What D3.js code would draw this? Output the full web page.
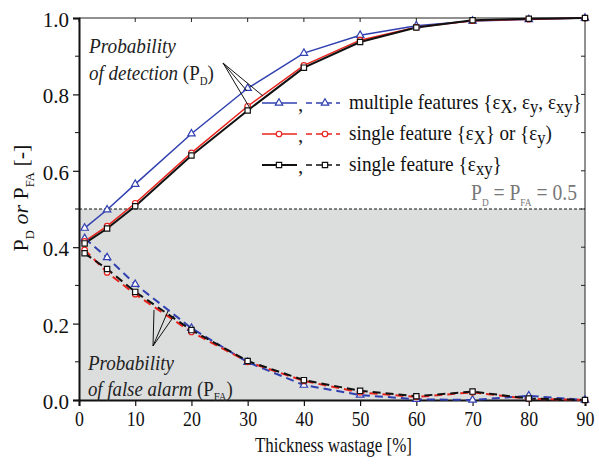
<!DOCTYPE html>
<html>
<head>
<meta charset="utf-8">
<script src="https://cdn.jsdelivr.net/npm/d3@7"></script>
<style>
  body { margin: 0; background: #fff; }
  svg { display: block; }
</style>
</head>
<body>
<svg width="599" height="465"></svg>
<script>
  // thickness wastage [%]
  var wastage = [1, 5, 10, 20, 30, 40, 50, 60, 70, 80, 90];

  // probability of detection
  var pdMulti  = [0.450, 0.498, 0.565, 0.697, 0.816, 0.908, 0.955, 0.980, 0.992, 0.996, 1.000];
  var pdSingle = [0.415, 0.455, 0.515, 0.647, 0.769, 0.876, 0.942, 0.976, 0.993, 0.997, 1.000];
  var pdXY     = [0.410, 0.449, 0.507, 0.640, 0.758, 0.870, 0.937, 0.975, 0.994, 0.998, 1.000];

  // probability of false alarm
  var pfaMulti  = [0.423, 0.373, 0.303, 0.188, 0.099, 0.039, 0.013, 0.002, 0.000, 0.011, 0.000];
  var pfaSingle = [0.393, 0.334, 0.277, 0.178, 0.100, 0.050, 0.020, 0.008, 0.020, 0.003, 0.000];
  var pfaXY     = [0.384, 0.343, 0.283, 0.183, 0.102, 0.052, 0.024, 0.010, 0.022, 0.004, 0.000];

  var xTicks = [0, 10, 20, 30, 40, 50, 60, 70, 80, 90];
  var yTicks = [0, 0.2, 0.4, 0.6, 0.8, 1.0];
  var yMinor = [0.1, 0.3, 0.5, 0.7, 0.9];

  var series = [
    { name: "multi",  pd: pdMulti,  pfa: pfaMulti,  color: "#3040b0", shape: d3.symbolTriangle, size: 24 },
    { name: "single", pd: pdSingle, pfa: pfaSingle, color: "#e8231c", shape: d3.symbolCircle,   size: 24 },
    { name: "xy",     pd: pdXY,     pfa: pfaXY,     color: "#111111", shape: d3.symbolSquare,   size: 28 }
  ];

  var plotL = 79, plotR = 585, plotT = 18, plotB = 400;
  var serif = "'Liberation Serif', 'Times New Roman', serif";

  var x = d3.scaleLinear().domain([0, 90]).range([plotL, plotR]);
  var y = d3.scaleLinear().domain([0, 1]).range([plotB, plotT]);

  var svg = d3.select("svg");

  // squeeze a text horizontally so it spans the given width
  function fit(sel, width, ax) {
    var w = sel.node().getComputedTextLength();
    var k = width / w;
    sel.attr("transform", "translate(" + ax + ",0) scale(" + k + ",1) translate(" + (-ax) + ",0)");
  }

  // grey band below 0.5
  svg.append("rect")
      .attr("x", x(0)).attr("y", y(0.5))
      .attr("width", x(90) - x(0)).attr("height", y(0) - y(0.5))
      .attr("fill", "#dcdddd");

  svg.append("line")
      .attr("x1", x(0)).attr("x2", x(90))
      .attr("y1", y(0.5)).attr("y2", y(0.5))
      .attr("stroke", "#111").attr("stroke-width", 1)
      .attr("stroke-dasharray", "3,2");

  // frame: top and right
  svg.append("path")
      .attr("d", ["M", x(0), y(1), "L", x(90), y(1), "L", x(90), y(0)].join(" "))
      .attr("fill", "none").attr("stroke", "#222").attr("stroke-width", 1);

  svg.selectAll("line.rtick").data(yTicks.concat(yMinor)).enter()
      .append("line")
      .attr("x1", x(90)).attr("x2", x(90) - 4)
      .attr("y1", function(d) { return y(d); }).attr("y2", function(d) { return y(d); })
      .attr("stroke", "#222").attr("stroke-width", 1);

  svg.selectAll("line.ttick").data(xTicks).enter()
      .append("line")
      .attr("x1", function(d) { return x(d); }).attr("x2", function(d) { return x(d); })
      .attr("y1", y(1)).attr("y2", y(1) + 4)
      .attr("stroke", "#222").attr("stroke-width", 1);

  // axes
  var xAxis = svg.append("g")
      .attr("transform", "translate(0," + y(0) + ")")
      .call(d3.axisBottom(x).tickValues(xTicks).tickSize(6).tickPadding(5).tickFormat(d3.format("d")));

  var yAxis = svg.append("g")
      .attr("transform", "translate(" + x(0) + ",0)")
      .call(d3.axisLeft(y).tickValues(yTicks).tickSize(6).tickPadding(4).tickFormat(d3.format(".1f")));

  svg.selectAll("line.lminor").data(yMinor).enter()
      .append("line")
      .attr("x1", x(0)).attr("x2", x(0) - 4)
      .attr("y1", function(d) { return y(d); }).attr("y2", function(d) { return y(d); })
      .attr("stroke", "#111").attr("stroke-width", 1);

  [xAxis, yAxis].forEach(function(g) {
    g.select(".domain").attr("stroke", "#111").attr("stroke-width", 2);
    g.selectAll(".tick line").attr("stroke", "#111").attr("stroke-width", 1.2);
    g.selectAll(".tick text").attr("fill", "#111")
        .style("font-family", serif).style("font-size", "21px");
  });
  xAxis.selectAll(".tick text").attr("dy", "0.71em").attr("transform", "scale(0.85,1)");
  yAxis.selectAll(".tick text").attr("dy", "0.4em");

  // curves
  var lineFor = function(values) {
    return d3.line()
        .x(function(d, i) { return x(wastage[i]); })
        .y(function(d) { return y(d); })(values);
  };

  var marker = function(s) { return d3.symbol().type(s.shape).size(s.size); };

  series.forEach(function(s) {
    svg.append("path")
        .attr("d", lineFor(s.pfa))
        .attr("fill", "none").attr("stroke", s.color)
        .attr("stroke-width", 2).attr("stroke-dasharray", "8,5");

    svg.append("path")
        .attr("d", lineFor(s.pd))
        .attr("fill", "none").attr("stroke", s.color)
        .attr("stroke-width", s.name === "xy" ? 2 : 1.5);
  });

  series.forEach(function(s) {
    [s.pd, s.pfa].forEach(function(vals) {
      svg.selectAll(null).data(vals).enter()
          .append("path")
          .attr("d", marker(s))
          .attr("transform", function(d, i) { return "translate(" + x(wastage[i]) + "," + y(d) + ")"; })
          .attr("fill", "#fff").attr("stroke", s.color).attr("stroke-width", 1.2);
    });
  });

  // annotation pointers
  var pointers = [
    [[223, 63], [247, 91]], [[223, 63], [263, 96]], [[223, 63], [251, 110]],
    [[153, 346], [154, 310]], [[153, 346], [168, 311]], [[153, 346], [174, 316]]
  ];
  svg.selectAll("line.ptr").data(pointers).enter()
      .append("line")
      .attr("x1", function(d) { return d[0][0]; }).attr("y1", function(d) { return d[0][1]; })
      .attr("x2", function(d) { return d[1][0]; }).attr("y2", function(d) { return d[1][1]; })
      .attr("stroke", "#111").attr("stroke-width", 1);

  function annot(xp, yp, width, italic, sub) {
    var t = svg.append("text").attr("x", xp).attr("y", yp)
        .attr("fill", "#222").style("font-family", serif).style("font-size", "21px");
    t.append("tspan").style("font-style", "italic").text(italic);
    if (sub) {
      t.append("tspan").text(" (P");
      t.append("tspan").attr("dy", 5).style("font-size", "12px").text(sub);
      t.append("tspan").attr("dy", -5).text(")");
    }
    fit(t, width, xp);
  }
  annot(89, 53, 87, "Probability");
  annot(89, 80, 125, "of detection", "D");
  annot(88, 370, 86, "Probability");
  annot(88, 396, 145, "of false alarm", "FA");

  // legend
  var legendRows = [
    { s: series[0], y: 103, w: 233, parts: [["multiple features {ε", 0], ["X", 1], [", ε", 0], ["y", 1], [", ε", 0], ["xy", 1], ["}", 0]] },
    { s: series[1], y: 134, w: 203, parts: [["single feature {ε", 0], ["X", 1], ["} or {ε", 0], ["y", 1], [")", 0]] },
    { s: series[2], y: 165, w: 153, parts: [["single feature {ε", 0], ["xy", 1], ["}", 0]] }
  ];

  legendRows.forEach(function(r) {
    var s = r.s;
    svg.append("line").attr("x1", 262).attr("x2", 297).attr("y1", r.y).attr("y2", r.y)
        .attr("stroke", s.color).attr("stroke-width", s.name === "xy" ? 2 : 1.5);
    svg.append("line").attr("x1", 306).attr("x2", 340).attr("y1", r.y).attr("y2", r.y)
        .attr("stroke", s.color).attr("stroke-width", 1.5).attr("stroke-dasharray", "6,4");
    [279, 325].forEach(function(mx) {
      svg.append("path").attr("d", marker(s))
          .attr("transform", "translate(" + mx + "," + r.y + ")")
          .attr("fill", "#fff").attr("stroke", s.color).attr("stroke-width", 1.2);
    });
    svg.append("text").attr("x", 298).attr("y", r.y + 8)
        .attr("fill", "#222").style("font-family", serif).style("font-size", "21px").text(",");

    var t = svg.append("text").attr("x", 349).attr("y", r.y + 6)
        .attr("fill", "#111").style("font-family", serif).style("font-size", "22px");
    var shift = 0;
    r.parts.forEach(function(p) {
      var target = p[1] ? 4 : 0;
      var sp = t.append("tspan").attr("dy", target - shift).text(p[0]);
      if (p[1]) sp.style("font-size", "19px");
      shift = target;
    });
    fit(t, r.w, 349);
  });

  // threshold label
  var th = svg.append("text").attr("x", 471).attr("y", 200)
      .attr("fill", "#777").style("font-family", serif).style("font-size", "23px");
  th.append("tspan").text("P");
  th.append("tspan").attr("dy", 6).style("font-size", "11px").text("D");
  th.append("tspan").attr("dy", -6).text(" = P");
  th.append("tspan").attr("dy", 6).style("font-size", "11px").text("FA");
  th.append("tspan").attr("dy", -6).text(" = 0.5");
  fit(th, 106, 471);

  // axis titles
  var xt = svg.append("text")
      .attr("x", 255).attr("y", 452)
      .attr("fill", "#111")
      .style("font-family", serif).style("font-size", "21px")
      .text("Thickness wastage [%]");
  fit(xt, 157, 255);

  var ylg = svg.append("g").attr("transform", "translate(28,198) rotate(-90)");
  var yl = ylg.append("text")
      .attr("x", 0).attr("y", 0)
      .attr("text-anchor", "middle").attr("fill", "#111")
      .style("font-family", serif).style("font-size", "21px");
  yl.append("tspan").text("P");
  yl.append("tspan").attr("dy", 6).style("font-size", "12px").text("D");
  yl.append("tspan").attr("dy", -6).style("font-style", "italic").text(" or ");
  yl.append("tspan").text("P");
  yl.append("tspan").attr("dy", 6).style("font-size", "12px").text("FA");
  yl.append("tspan").attr("dy", -6).text(" [-]");
  fit(yl, 107, 0);
</script>
</body>
</html>
